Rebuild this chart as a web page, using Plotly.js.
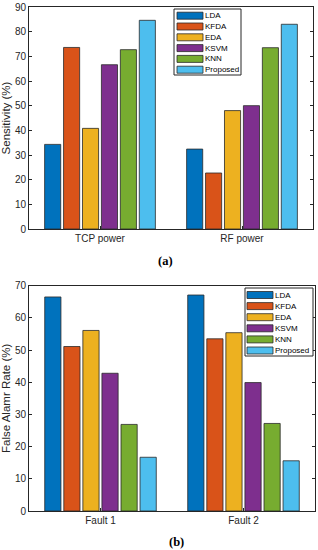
<!DOCTYPE html>
<html>
<head>
<meta charset="utf-8">
<script src="https://cdn.plot.ly/plotly-3.0.1.min.js"></script>
<style>html,body{margin:0;padding:0;background:#fff;}#chart{width:318px;height:550px;}</style>
</head>
<body>
<div id="chart"></div>
<script>
// ---- data ----
const methods = ['LDA', 'KFDA', 'EDA', 'KSVM', 'KNN', 'Proposed'];
const colors = ['#0072BD', '#D95319', '#EDB120', '#7E2F8E', '#77AC30', '#4DBEEE'];
const categoriesA = ['TCP power', 'RF power'];
const sensitivityTCP = [34.3, 73.6, 40.8, 66.6, 72.7, 84.6];
const sensitivityRF = [32.4, 22.7, 48.0, 50.0, 73.5, 83.0];
const categoriesB = ['Fault 1', 'Fault 2'];
const falseAlarmFault1 = [66.5, 51.1, 56.1, 42.8, 26.9, 16.7];
const falseAlarmFault2 = [67.1, 53.5, 55.4, 39.9, 27.2, 15.6];
const ticksA = [0, 10, 20, 30, 40, 50, 60, 70, 80, 90];
const ticksB = [0, 10, 20, 30, 40, 50, 60, 70];

// ---- layout helpers (pixel -> paper) ----
const W = 318, H = 550;
const px = x => x / W;
const py = y => 1 - y / H;
const axisColor = '#262626';
const tickFont = {family: 'Liberation Sans, Arial, sans-serif', size: 10, color: axisColor};

const traces = [];
methods.forEach((m, i) => {
  traces.push({
    type: 'bar', name: m, x: categoriesA, y: [sensitivityTCP[i], sensitivityRF[i]],
    xaxis: 'x', yaxis: 'y',
    marker: {color: colors[i], line: {color: '#2a2a2a', width: 0.8}},
    showlegend: false, hoverinfo: 'x+y+name'
  });
});
methods.forEach((m, i) => {
  traces.push({
    type: 'bar', name: m, x: categoriesB, y: [falseAlarmFault1[i], falseAlarmFault2[i]],
    xaxis: 'x2', yaxis: 'y2',
    marker: {color: colors[i], line: {color: '#2a2a2a', width: 0.8}},
    showlegend: false, hoverinfo: 'x+y+name'
  });
});

function xAxis(domain, anchor) {
  return {
    domain: domain, anchor: anchor, type: 'category',
    showline: true, linecolor: axisColor, linewidth: 1, mirror: true,
    ticks: 'inside', ticklen: 3, tickcolor: axisColor,
    tickfont: tickFont, showgrid: false, zeroline: false, fixedrange: true
  };
}
function yAxis(domain, anchor, range, ticks, title) {
  return {
    domain: domain, anchor: anchor, range: range,
    tickvals: ticks, ticktext: ticks.map(String),
    showline: true, linecolor: axisColor, linewidth: 1, mirror: 'ticks',
    ticks: 'inside', ticklen: 3, tickcolor: axisColor,
    tickfont: tickFont, showgrid: false, zeroline: false, fixedrange: true,
    title: {text: title, standoff: 5, font: {family: 'Liberation Sans, Arial, sans-serif', size: 11.5, color: axisColor}}
  };
}

const shapes = [];
const annotations = [];

function addLegend(box, sw, rowY0, rowStep, textX) {
  shapes.push({type: 'rect', xref: 'paper', yref: 'paper',
    x0: px(box[0]), x1: px(box[1]), y0: py(box[2]), y1: py(box[3]),
    line: {color: '#262626', width: 1}, fillcolor: '#ffffff', layer: 'above'});
  methods.forEach((m, i) => {
    const cy = rowY0 + i * rowStep;
    shapes.push({type: 'rect', xref: 'paper', yref: 'paper',
      x0: px(sw[0]), x1: px(sw[1]), y0: py(cy - 3.5), y1: py(cy + 3.5),
      line: {color: '#2a2a2a', width: 0.8}, fillcolor: colors[i], layer: 'above'});
    annotations.push({xref: 'paper', yref: 'paper', x: px(textX), y: py(cy),
      xanchor: 'left', yanchor: 'middle', showarrow: false, text: m,
      font: {family: 'Liberation Sans, Arial, sans-serif', size: 8, color: '#000'}});
  });
}
addLegend([174, 241, 9, 75], [177, 203], 15.7, 10.8, 203);
addLegend([245, 313, 288, 356], [247, 273], 295, 11.1, 273);

annotations.push({xref: 'paper', yref: 'paper', x: px(165), y: py(261), xanchor: 'center', yanchor: 'middle',
  showarrow: false, text: '<b>(a)</b>', font: {family: 'Liberation Serif, Times New Roman, serif', size: 12.5, color: '#000'}});
annotations.push({xref: 'paper', yref: 'paper', x: px(176), y: py(542), xanchor: 'center', yanchor: 'middle',
  showarrow: false, text: '<b>(b)</b>', font: {family: 'Liberation Serif, Times New Roman, serif', size: 12.5, color: '#000'}});

const layout = {
  width: W, height: H,
  margin: {l: 0, r: 0, t: 0, b: 0},
  paper_bgcolor: '#ffffff', plot_bgcolor: '#ffffff',
  barmode: 'group', bargap: 0.2, bargroupgap: 0.15,
  showlegend: false,
  xaxis: xAxis([px(29), px(313)], 'y'),
  yaxis: yAxis([py(229), py(7)], 'x', [0, 90], ticksA, 'Sensitivity (%)'),
  xaxis2: xAxis([px(29), px(315)], 'y2'),
  yaxis2: yAxis([py(511), py(285.7)], 'x2', [0, 70], ticksB, 'False Alamr Rate (%)'),
  shapes: shapes,
  annotations: annotations
};

Plotly.newPlot('chart', traces, layout, {displayModeBar: false, staticPlot: true});
</script>
</body>
</html>
